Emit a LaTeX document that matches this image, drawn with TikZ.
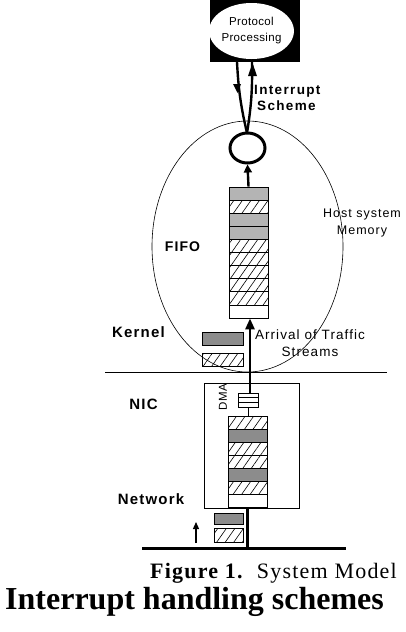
\documentclass[tikz,border=0pt]{standalone}
\usepackage{fontspec}
\setmainfont{Liberation Serif}
\setsansfont{Liberation Sans}
\newfontfamily\sfsp[LetterSpace=8]{Liberation Sans}
\newfontfamily\rmsp[LetterSpace=5.5]{Liberation Serif}
\usetikzlibrary{shapes.geometric,arrows.meta,patterns.meta}
\definecolor{lgray}{RGB}{180,180,180}
\definecolor{dgray}{RGB}{140,140,140}
\tikzset{
  lbl/.style={font=\sfsp\bfseries\fontsize{15}{16}\selectfont, inner sep=0pt},
  thin lbl/.style={font=\sfsp\fontsize{12.5}{17}\selectfont, inner sep=0pt, align=center},
  cell/.style={draw, line width=0.8pt, minimum width=39pt, minimum height=13.1pt, inner sep=0pt},
  grey cell/.style={cell, fill=lgray},
  dgrey cell/.style={cell, fill=dgray},
  hatch cell/.style={cell, pattern={Lines[angle=55,distance=7pt,line width=0.6pt]}},
  white cell/.style={cell, fill=white},
  pkt/.style={draw, line width=0.8pt, minimum width=41pt, minimum height=13pt, inner sep=0pt},
  thick arrow/.style={line width=2.6pt, -{Triangle[width=9pt,length=11pt]}},
}
\begin{document}
\begin{tikzpicture}[x=1pt,y=-1pt]
\useasboundingbox (0,0) rectangle (406,632);
% protocol processing
\node[fill=black, minimum width=90pt, minimum height=62pt, inner sep=0pt] (ppbox) at (255,31) {};
\node[ellipse, fill=white, minimum width=80pt, minimum height=56pt, inner sep=0pt, align=center,
      font=\sfsp\addfontfeature{LetterSpace=3}\fontsize{11.5}{16}\selectfont] (pp) at (251.5,31) {Protocol\\Processing};
% big ellipse
\node[ellipse, draw, line width=0.6pt, minimum width=191pt, minimum height=251pt, inner sep=0pt] (host) at (247.5,246.5) {};
% ring
\node[ellipse, draw, line width=3pt, minimum width=35pt, minimum height=30pt, inner sep=0pt, fill=white] (ring) at (247.5,148) {};
\coordinate (ringtop) at (247,133);
\coordinate (pl) at (237,62);
\coordinate (pr) at (252,62);
\draw[line width=2.4pt] (pl) to[bend right=5] (ringtop);
\draw[line width=2.4pt] (ringtop) to[bend right=5] (pr);
\fill (233,84) -- (241,84) -- (237.5,93) -- cycle;
\fill (252.5,63) -- (248,76) -- (257,76) -- cycle;
\node[lbl, font=\sfsp\bfseries\addfontfeature{LetterSpace=10}\fontsize{13.5}{16}\selectfont, align=left, anchor=west] (isch) at (254,98) {Interrupt\\\hspace{3pt}Scheme};
% FIFO stack
\node[grey cell]  (f1)  at (248.5,193.55) {};
\node[hatch cell] (f2)  at (248.5,206.65) {};
\node[grey cell]  (f3)  at (248.5,219.75) {};
\node[grey cell]  (f4)  at (248.5,232.85) {};
\node[hatch cell] (f5)  at (248.5,245.95) {};
\node[hatch cell] (f6)  at (248.5,259.05) {};
\node[hatch cell] (f7)  at (248.5,272.15) {};
\node[hatch cell] (f8)  at (248.5,285.25) {};
\node[hatch cell] (f9)  at (248.5,298.35) {};
\node[white cell] (f10) at (248.5,311.45) {};
\draw[line width=2.4pt, -{Triangle[width=8pt,length=8pt]}] (f1.north) -- (ring.south);
% labels in memory
\node[thin lbl] (hsm) at (362,223) {Host system\\Memory};
\node[lbl, font=\sfsp\bfseries\fontsize{14}{16}\selectfont] (fifo) at (182.5,247) {FIFO};
\node[lbl] (kernel) at (138.5,332) {Kernel};
\node[pkt, fill=dgray] (k1) at (222.5,338.5) {};
\node[pkt, pattern={Lines[angle=55,distance=7pt,line width=0.6pt]}] (k2) at (222.5,359.5) {};
\node[thin lbl, font=\sfsp\fontsize{13.5}{17}\selectfont] (arr) at (310,343) {Arrival of Traffic\\Streams};
% kernel/NIC boundary
\coordinate (hl) at (105,372);
\coordinate (hr) at (387,372);
\draw[line width=0.8pt] (hl) -- (hr);
% NIC
\node[draw, line width=0.8pt, minimum width=95pt, minimum height=125pt, inner sep=0pt] (nic) at (251.5,445.5) {};
\node[lbl] (niclbl) at (143.5,404) {NIC};
\node[lbl] (net) at (151,499) {Network};
\node[font=\sfsp\addfontfeature{LetterSpace=4}\fontsize{11.5}{12}\selectfont, inner sep=0pt, rotate=90] (dmalbl) at (223,397) {DMA};
\node[draw, line width=0.8pt, minimum width=20pt, minimum height=14pt, inner sep=0pt, fill=white] (dma) at (248.5,400) {};
\draw[line width=1.6pt] (dma.west |- 0,397.5) -- (dma.east |- 0,397.5);
\draw[line width=1.6pt] (dma.west |- 0,402.5) -- (dma.east |- 0,402.5);
\node[hatch cell] (n1) at (247.5,422.6) {};
\node[dgrey cell] (n2) at (247.5,435.7) {};
\node[hatch cell] (n3) at (247.5,448.8) {};
\node[hatch cell] (n4) at (247.5,461.9) {};
\node[dgrey cell] (n5) at (247.5,475.0) {};
\node[hatch cell] (n6) at (247.5,488.1) {};
\node[white cell] (n7) at (247.5,501.2) {};
\draw[line width=0.8pt] (dma.south) -- (dma.south |- n1.north);
\draw[thick arrow] (dma.north -| 250,0) -- (f10.south -| 250,0);
% network
\coordinate (gl) at (142,548);
\coordinate (gr) at (346,548);
\coordinate (gm) at (247,548);
\draw[line width=3pt] (gl) -- (gr);
\draw[line width=3pt] (n7.south -| gm) -- (gm);
\node[pkt, minimum width=29pt, minimum height=11pt, fill=dgray] (w1) at (228.5,518.5) {};
\node[pkt, minimum width=29pt, minimum height=14pt, pattern={Lines[angle=55,distance=7pt,line width=0.6pt]}] (w2) at (228.5,535) {};
\coordinate (sa1) at (196,543);
\coordinate (sa2) at (196,522);
\draw[line width=1.2pt, -{Triangle[width=6pt,length=7pt]}] (sa1) -- (sa2);
% caption
\node[anchor=base east, inner sep=0pt, font=\rmsp\fontsize{22}{24}\selectfont] (cap) at (397,578.5) {\textbf{Figure 1.}\hspace{0.6em}System Model};
\node[anchor=base west, inner sep=0pt, font=\bfseries\fontsize{32}{34}\selectfont] (title) at (5,609) {Interrupt handling schemes};
\end{tikzpicture}
\end{document}
